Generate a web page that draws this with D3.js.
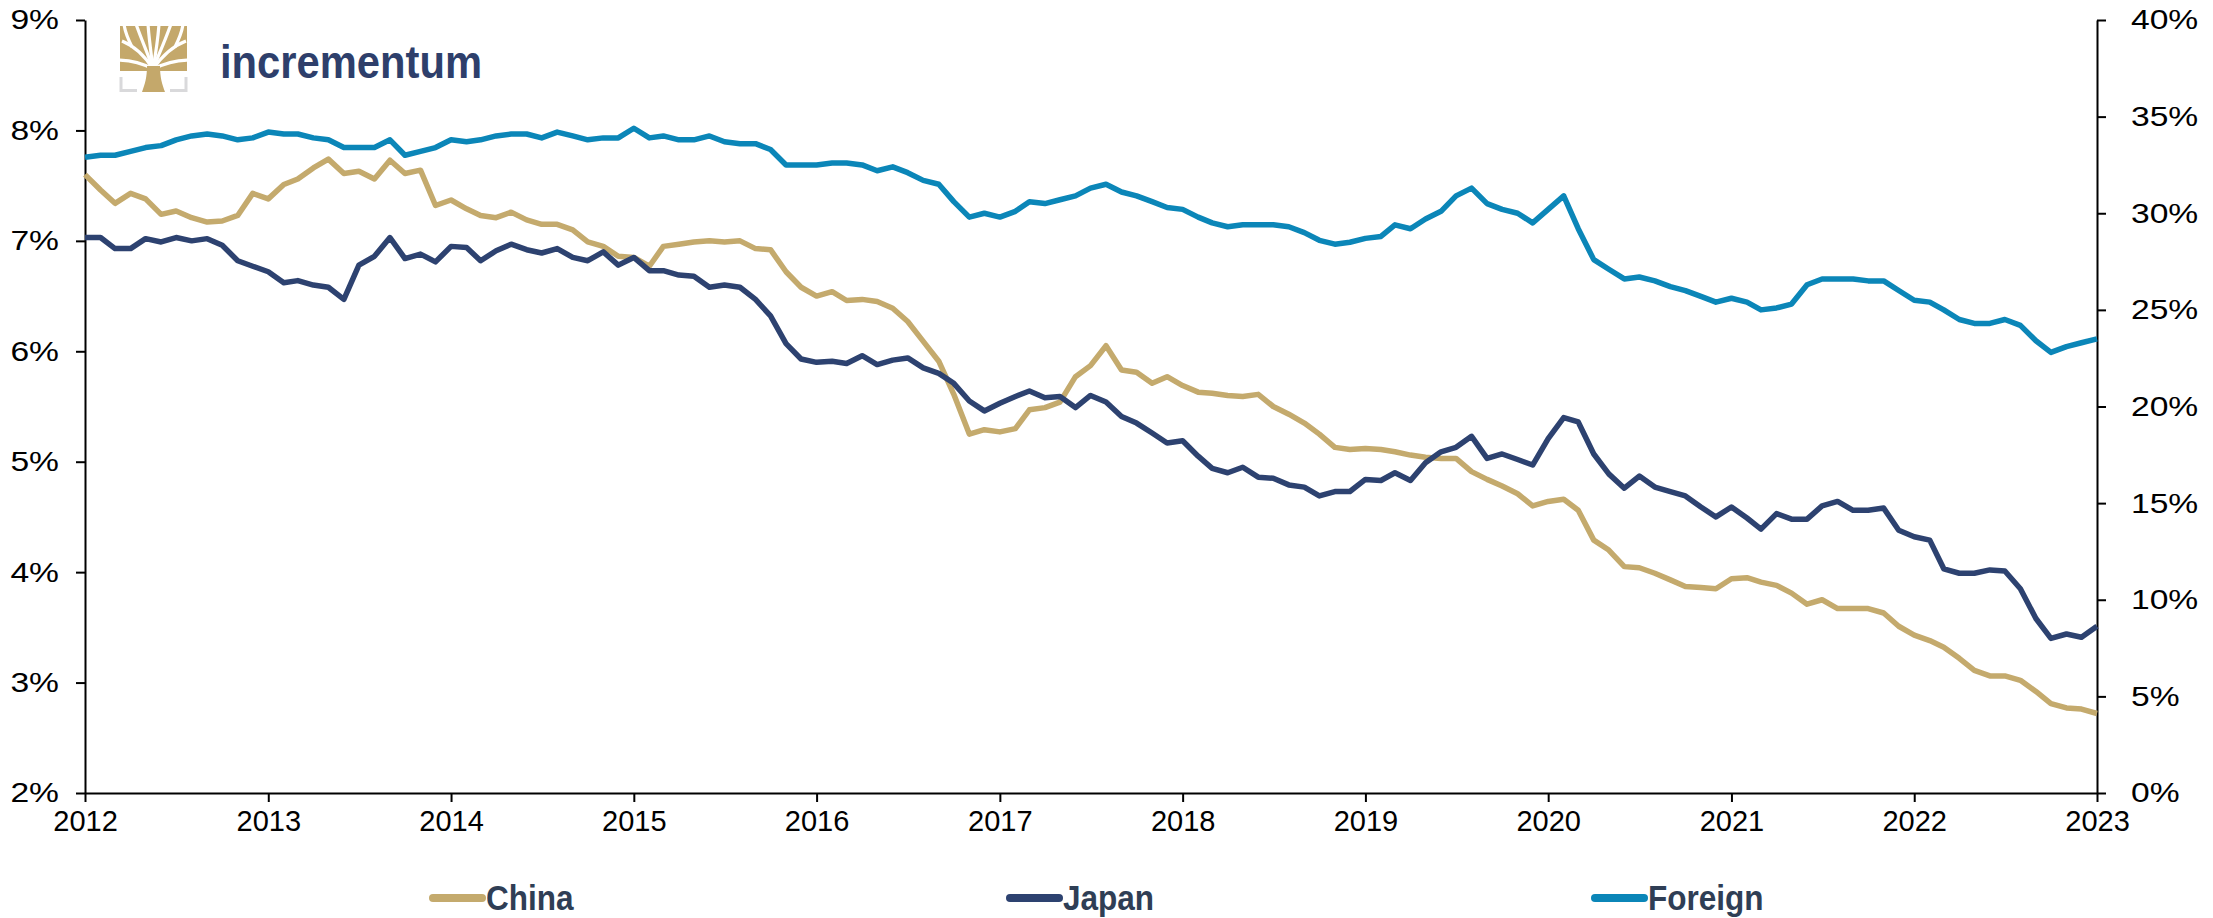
<!DOCTYPE html>
<html lang="en">
<head>
    <meta charset="UTF-8"/>
    <title>China, Japan, Foreign share</title>
    <script src="https://d3js.org/d3.v7.min.js"></script>
    <style>
        body { margin: 0; background: #fff; }
        svg { display: block; }
        .axis path, .axis line { stroke: #000; stroke-width: 2px; }
        .axis text { font-family: "Liberation Sans", Arial, sans-serif; fill: #000; }
        .legend text {
            font-family: "Liberation Sans Narrow", "Arial Narrow", "Liberation Sans", sans-serif;
            font-weight: bold;
            fill: #2f3e55;
        }
    </style>
</head>
<body>
    <script>
        var w = 2213;
        var h = 918;

        // monthly, Jan 2012 .. Jan 2023
        var years = [2012, 2013, 2014, 2015, 2016, 2017, 2018, 2019, 2020, 2021, 2022, 2023];
        var leftTicks = [2, 3, 4, 5, 6, 7, 8, 9];
        var rightTicks = [0, 5, 10, 15, 20, 25, 30, 35, 40];

        // left axis, %
        var china = [
            7.60, 7.46, 7.34, 7.43, 7.38, 7.24, 7.27, 7.21, 7.17, 7.18, 7.23, 7.43,
            7.38, 7.51, 7.56, 7.66, 7.74, 7.61, 7.63, 7.56, 7.73, 7.61, 7.64, 7.32,
            7.37, 7.29, 7.23, 7.21, 7.26, 7.19, 7.15, 7.15, 7.10, 6.99, 6.95, 6.86,
            6.85, 6.77, 6.95, 6.97, 6.99, 7.00, 6.99, 7.00, 6.93, 6.92, 6.72, 6.58,
            6.50, 6.54, 6.46, 6.47, 6.45, 6.39, 6.27, 6.09, 5.91, 5.61, 5.25, 5.29,
            5.27, 5.30, 5.47, 5.49, 5.54, 5.77, 5.87, 6.05, 5.83, 5.81, 5.71, 5.77,
            5.69, 5.63, 5.62, 5.60, 5.59, 5.61, 5.50, 5.43, 5.35, 5.25, 5.13, 5.11,
            5.12, 5.11, 5.09, 5.06, 5.04, 5.03, 5.03, 4.91, 4.84, 4.78, 4.71, 4.60,
            4.64, 4.66, 4.56, 4.29, 4.20, 4.05, 4.04, 3.99, 3.93, 3.87, 3.86, 3.85,
            3.94, 3.95, 3.91, 3.88, 3.81, 3.71, 3.75, 3.67, 3.67, 3.67, 3.63, 3.51,
            3.43, 3.38, 3.32, 3.22, 3.11, 3.06, 3.06, 3.02, 2.92, 2.81, 2.77, 2.76,
            2.72
        ];
        var japan = [
            7.03, 7.03, 6.93, 6.93, 7.02, 6.99, 7.03, 7.00, 7.02, 6.96, 6.82, 6.77,
            6.72, 6.62, 6.64, 6.60, 6.58, 6.47, 6.78, 6.86, 7.03, 6.84, 6.88, 6.81,
            6.95, 6.94, 6.82, 6.91, 6.97, 6.92, 6.89, 6.93, 6.85, 6.82, 6.90, 6.78,
            6.85, 6.73, 6.73, 6.69, 6.68, 6.58, 6.60, 6.58, 6.47, 6.32, 6.07, 5.93,
            5.90, 5.91, 5.89, 5.96, 5.88, 5.92, 5.94, 5.85, 5.80, 5.71, 5.55, 5.46,
            5.53, 5.59, 5.64, 5.58, 5.59, 5.49, 5.60, 5.54, 5.41, 5.35, 5.26, 5.17,
            5.19, 5.05, 4.94, 4.90, 4.95, 4.86, 4.85, 4.79, 4.77, 4.69, 4.73, 4.73,
            4.84, 4.83, 4.90, 4.83, 4.99, 5.09, 5.13, 5.23, 5.03, 5.07, 5.02, 4.97,
            5.21, 5.40, 5.36, 5.07, 4.89, 4.76, 4.87, 4.77, 4.73, 4.69, 4.59, 4.50,
            4.59, 4.49, 4.39, 4.53, 4.48, 4.48, 4.60, 4.64, 4.56, 4.56, 4.58, 4.38,
            4.32, 4.29, 4.03, 3.99, 3.99, 4.02, 4.01, 3.85, 3.58, 3.40, 3.44, 3.41,
            3.51
        ];
        // right axis, %
        var foreign = [
            32.9, 33.0, 33.0, 33.2, 33.4, 33.5, 33.8, 34.0, 34.1, 34.0, 33.8, 33.9,
            34.2, 34.1, 34.1, 33.9, 33.8, 33.4, 33.4, 33.4, 33.8, 33.0, 33.2, 33.4,
            33.8, 33.7, 33.8, 34.0, 34.1, 34.1, 33.9, 34.2, 34.0, 33.8, 33.9, 33.9,
            34.4, 33.9, 34.0, 33.8, 33.8, 34.0, 33.7, 33.6, 33.6, 33.3, 32.5, 32.5,
            32.5, 32.6, 32.6, 32.5, 32.2, 32.4, 32.1, 31.7, 31.5, 30.6, 29.8, 30.0,
            29.8, 30.1, 30.6, 30.5, 30.7, 30.9, 31.3, 31.5, 31.1, 30.9, 30.6, 30.3,
            30.2, 29.8, 29.5, 29.3, 29.4, 29.4, 29.4, 29.3, 29.0, 28.6, 28.4, 28.5,
            28.7, 28.8, 29.4, 29.2, 29.7, 30.1, 30.9, 31.3, 30.5, 30.2, 30.0, 29.5,
            30.2, 30.9, 29.2, 27.6, 27.1, 26.6, 26.7, 26.5, 26.2, 26.0, 25.7, 25.4,
            25.6, 25.4, 25.0, 25.1, 25.3, 26.3, 26.6, 26.6, 26.6, 26.5, 26.5, 26.0,
            25.5, 25.4, 25.0, 24.5, 24.3, 24.3, 24.5, 24.2, 23.4, 22.8, 23.1, 23.3,
            23.5
        ];

        var seriesNames = ["China", "Japan", "Foreign"];
        var seriesColors = ["#c4aa6d", "#2d4270", "#0b86b8"];

        var startMonth = new Date(2012, 0, 1);
        var months = china.map(function(d, i) { return d3.timeMonth.offset(startMonth, i); });

        var plotLeft = 85, plotRight = 2097, plotTop = 20, plotBottom = 793;

        var xScale = d3.scaleTime()
            .domain([new Date(years[0], 0, 1), new Date(years[years.length - 1], 0, 1)])
            .range([plotLeft, plotRight]);

        var yLeft = d3.scaleLinear().domain([2, 9]).range([plotBottom, plotTop]);
        var yRight = d3.scaleLinear().domain([0, 40]).range([plotBottom, plotTop]);

        var svg = d3.select("body")
            .append("svg")
            .attr("width", w)
            .attr("height", h);

        svg.append("rect").attr("width", w).attr("height", h).attr("fill", "#fff");

        // logo
        var logo = svg.append("g").attr("transform", "translate(120,26)");
        logo.append("clipPath").attr("id", "canopy")
            .append("rect").attr("width", 67).attr("height", 45);
        var canopy = logo.append("g").attr("clip-path", "url(#canopy)");
        canopy.append("rect").attr("width", 67).attr("height", 45).attr("fill", "#c4a86b");
        var gaps = [
            "M33,43 C25,30 14,20 2,15", "M33,43 C28,28 22,15 16,-2", "M33,43 C31,26 29,13 28,-2",
            "M33,43 C36,26 38,13 39,-2", "M33,43 C39,28 45,15 51,-2", "M33,43 C42,30 53,20 66,15",
            "M33,43 C24,38 12,34 -2,34", "M33,43 C43,38 55,34 69,34",
            "M12,21 C8,13 5,7 4,-2", "M55,21 C59,13 62,7 63,-2"
        ];
        canopy.selectAll("path.gap")
            .data(gaps)
            .enter()
            .append("path")
            .attr("d", function(d) { return d; })
            .attr("fill", "none")
            .attr("stroke", "#fff")
            .attr("stroke-width", 3.2);
        logo.append("path")
            .attr("d", "M27,40 L40,40 C40,51 42,58 45,66 L22,66 C25,58 27,51 27,40 Z")
            .attr("fill", "#c4a86b");
        logo.append("path")
            .attr("d", "M1,51 L1,64.5 L17,64.5 M66,51 L66,64.5 L50,64.5")
            .attr("fill", "none")
            .attr("stroke", "#d9d9db")
            .attr("stroke-width", 3);
        svg.append("text")
            .attr("x", 220)
            .attr("y", 78)
            .attr("font-family", "\"Liberation Sans\", Arial, sans-serif")
            .attr("font-weight", "bold")
            .attr("font-size", 46)
            .attr("textLength", 262)
            .attr("lengthAdjust", "spacingAndGlyphs")
            .attr("fill", "#2e3f6b")
            .text("incrementum");

        // axes
        var xAxis = svg.append("g")
            .attr("class", "axis")
            .attr("transform", "translate(0," + plotBottom + ")")
            .call(d3.axisBottom(xScale)
                .tickValues(years.map(function(y) { return new Date(y, 0, 1); }))
                .tickFormat(d3.timeFormat("%Y"))
                .tickSize(9)
                .tickPadding(8)
                .tickSizeOuter(0));
        xAxis.selectAll("text").attr("font-size", 29);

        var yAxisL = svg.append("g")
            .attr("class", "axis pct")
            .attr("transform", "translate(" + plotLeft + ",0)")
            .call(d3.axisLeft(yLeft)
                .tickValues(leftTicks)
                .tickFormat(function(d) { return d + "%"; })
                .tickSize(9)
                .tickPadding(17)
                .tickSizeOuter(0));

        var yAxisR = svg.append("g")
            .attr("class", "axis pct")
            .attr("transform", "translate(" + plotRight + ",0)")
            .call(d3.axisRight(yRight)
                .tickValues(rightTicks)
                .tickFormat(function(d) { return d + "%"; })
                .tickSize(9)
                .tickPadding(25)
                .tickSizeOuter(0));

        // percent labels are drawn wide in the original
        svg.selectAll(".pct text")
            .attr("font-size", 28)
            .each(function() {
                var len = this.getComputedTextLength();
                d3.select(this)
                    .attr("textLength", len * 1.2)
                    .attr("lengthAdjust", "spacingAndGlyphs");
            });

        // lines
        var lineLeft = d3.line()
            .x(function(d, i) { return xScale(months[i]); })
            .y(function(d) { return yLeft(d); });
        var lineRight = d3.line()
            .x(function(d, i) { return xScale(months[i]); })
            .y(function(d) { return yRight(d); });

        var series = [
            { values: china, line: lineLeft },
            { values: japan, line: lineLeft },
            { values: foreign, line: lineRight }
        ];

        svg.selectAll("path.series")
            .data(series)
            .enter()
            .append("path")
            .attr("class", "series")
            .attr("d", function(d) { return d.line(d.values); })
            .attr("fill", "none")
            .attr("stroke", function(d, i) { return seriesColors[i]; })
            .attr("stroke-width", 5.5)
            .attr("stroke-linejoin", "round");

        // legend
        var legendX = [430, 1007, 1592];
        var legend = svg.append("g").attr("class", "legend");
        var items = legend.selectAll("g")
            .data(seriesNames)
            .enter()
            .append("g")
            .attr("transform", function(d, i) { return "translate(" + legendX[i] + ",898)"; });
        items.append("line")
            .attr("x1", 3).attr("x2", 52)
            .attr("stroke", function(d, i) { return seriesColors[i]; })
            .attr("stroke-width", 8)
            .attr("stroke-linecap", "round");
        items.append("text")
            .attr("x", 56)
            .attr("y", 12)
            .attr("font-size", 35)
            .text(function(d) { return d; })
            .each(function() {
                var len = this.getComputedTextLength();
                d3.select(this)
                    .attr("textLength", len * 0.9)
                    .attr("lengthAdjust", "spacingAndGlyphs");
            });
    </script>
</body>
</html>
